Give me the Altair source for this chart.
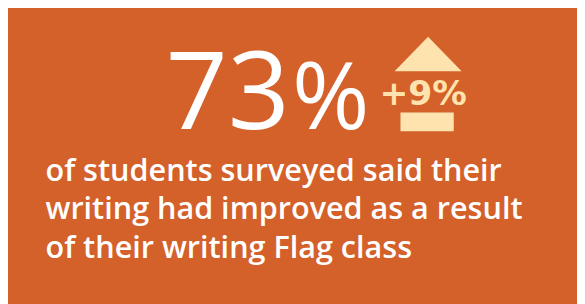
import altair as alt
import pandas as pd

# ---- content ----
big_value = ["73"]
big_unit = ["%"]
change_label = ["+9%"]
caption_lines = [
    "of students surveyed said their",
    "writing had improved as a result",
    "of their writing Flag class",
]

BG = "#D4602A"
PALE = "#FFE3AE"
OFF = 8  # page margin offset
W, H = 585 - OFF, 304 - OFF

def X(v):
    return v - OFF

def Y(v):
    return v - OFF

base = alt.Chart(pd.DataFrame({"k": [0]}))

bg = base.mark_rect(color=BG).encode(
    x=alt.value(0), x2=alt.value(W), y=alt.value(0), y2=alt.value(H)
)

num = alt.Chart(pd.DataFrame({"t": big_value})).mark_text(
    font="Open Sans", fontSize=110, fontWeight=500, color="white",
    align="left", baseline="alphabetic"
).encode(text="t:N", x=alt.value(X(168)), y=alt.value(Y(129)))

pct = alt.Chart(pd.DataFrame({"t": big_unit})).mark_text(
    font="Open Sans", fontSize=95, fontWeight=500, color="white",
    align="left", baseline="alphabetic"
).encode(text="t:N", x=alt.value(X(296)), y=alt.value(Y(129)))

tri = base.mark_point(
    shape="M0,-0.515L1,0.515L-1,0.515Z", filled=True, color=PALE,
    opacity=1, size=68 * 68, strokeWidth=0
).encode(x=alt.value(X(434)), y=alt.value(Y(52.5)))

bar = base.mark_rect(color=PALE).encode(
    x=alt.value(X(406)), x2=alt.value(X(460)),
    y=alt.value(Y(112)), y2=alt.value(Y(131))
)

chg = alt.Chart(pd.DataFrame({"t": change_label})).mark_text(
    font="DejaVu Sans", fontSize=35, fontWeight="bold", color=PALE,
    align="center", baseline="alphabetic"
).encode(text="t:N", x=alt.value(X(429)), y=alt.value(Y(104)))

cap_df = pd.DataFrame({"t": caption_lines, "i": list(range(len(caption_lines)))})
cap = alt.Chart(cap_df).mark_text(
    font="Open Sans", fontSize=31, fontWeight=600, color="white",
    align="left", baseline="alphabetic"
).encode(
    text="t:N",
    x=alt.value(X(46)),
    y=alt.Y("i:Q", scale=alt.Scale(domain=[0, 2], range=[Y(181), Y(259)]), axis=None),
)

chart = alt.layer(bg, num, pct, tri, bar, chg, cap).properties(
    width=W, height=H, autosize="none", padding=0, background=BG
).configure_view(stroke=None)

chart.save("out.html", embed_options={"renderer": "svg", "actions": False})
